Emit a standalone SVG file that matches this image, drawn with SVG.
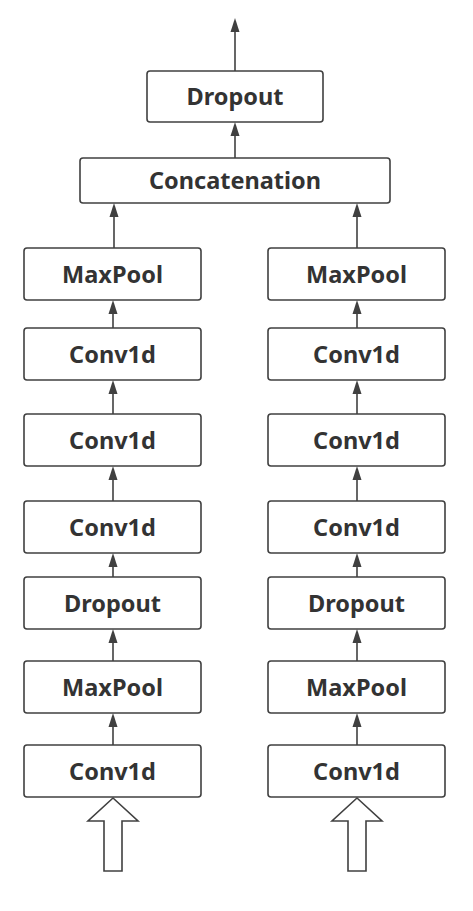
<svg xmlns="http://www.w3.org/2000/svg" width="473" height="911" viewBox="0 0 473 911">
<style>
.box{fill:#fff;stroke:#404040;stroke-width:1.6}
.lbl{font-family:"Noto Sans","DejaVu Sans",sans-serif;font-weight:bold;font-size:23.5px;fill:#333;text-anchor:middle}
.ln{stroke:#404040;stroke-width:1.6;fill:none}
.hd{fill:#404040}
.big{fill:#fff;stroke:#404040;stroke-width:1.6}
</style>
<g id="connectors">
<line class="ln" x1="235" y1="71" x2="235" y2="32"/>
<path class="hd" d="M235,18 L239.5,32 L230.5,32 Z"/>
<line class="ln" x1="235" y1="158" x2="235" y2="136"/>
<path class="hd" d="M235,122 L239.5,136 L230.5,136 Z"/>
<line class="ln" x1="114" y1="248" x2="114" y2="217"/>
<path class="hd" d="M114,203 L118.5,217 L109.5,217 Z"/>
<line class="ln" x1="357" y1="248" x2="357" y2="217"/>
<path class="hd" d="M357,203 L361.5,217 L352.5,217 Z"/>
<g id="left-edges">
<line class="ln" x1="113" y1="328" x2="113" y2="314"/>
<path class="hd" d="M113,300 L117.5,314 L108.5,314 Z"/>
<line class="ln" x1="113" y1="414" x2="113" y2="394"/>
<path class="hd" d="M113,380 L117.5,394 L108.5,394 Z"/>
<line class="ln" x1="113" y1="501" x2="113" y2="480"/>
<path class="hd" d="M113,466 L117.5,480 L108.5,480 Z"/>
<line class="ln" x1="113" y1="577" x2="113" y2="567"/>
<path class="hd" d="M113,553 L117.5,567 L108.5,567 Z"/>
<line class="ln" x1="113" y1="661" x2="113" y2="643"/>
<path class="hd" d="M113,629 L117.5,643 L108.5,643 Z"/>
<line class="ln" x1="113" y1="745" x2="113" y2="727"/>
<path class="hd" d="M113,713 L117.5,727 L108.5,727 Z"/>
</g>
<g id="right-edges">
<line class="ln" x1="357" y1="328" x2="357" y2="314"/>
<path class="hd" d="M357,300 L361.5,314 L352.5,314 Z"/>
<line class="ln" x1="357" y1="414" x2="357" y2="394"/>
<path class="hd" d="M357,380 L361.5,394 L352.5,394 Z"/>
<line class="ln" x1="357" y1="501" x2="357" y2="480"/>
<path class="hd" d="M357,466 L361.5,480 L352.5,480 Z"/>
<line class="ln" x1="357" y1="577" x2="357" y2="567"/>
<path class="hd" d="M357,553 L361.5,567 L352.5,567 Z"/>
<line class="ln" x1="357" y1="661" x2="357" y2="643"/>
<path class="hd" d="M357,629 L361.5,643 L352.5,643 Z"/>
<line class="ln" x1="357" y1="745" x2="357" y2="727"/>
<path class="hd" d="M357,713 L361.5,727 L352.5,727 Z"/>
</g>
<path class="big" d="M113,798 L138,821 L122,821 L122,871 L104,871 L104,821 L88,821 Z"/>
<path class="big" d="M357,798 L382,821 L366,821 L366,871 L348,871 L348,821 L332,821 Z"/>
</g>
<g id="dropout-top"><rect class="box" x="147" y="71" width="176" height="51" rx="3"/><text class="lbl" x="235" y="105">Dropout</text></g>
<g id="concat"><rect class="box" x="80" y="158" width="310" height="45" rx="3"/><text class="lbl" x="235" y="189">Concatenation</text></g>
<g id="l-maxpool2"><rect class="box" x="24" y="248" width="177" height="52" rx="3"/><text class="lbl" x="112.5" y="283">MaxPool</text></g>
<g id="l-conv4"><rect class="box" x="24" y="328" width="177" height="52" rx="3"/><text class="lbl" x="112.5" y="363">Conv1d</text></g>
<g id="l-conv3"><rect class="box" x="24" y="414" width="177" height="52" rx="3"/><text class="lbl" x="112.5" y="449">Conv1d</text></g>
<g id="l-conv2"><rect class="box" x="24" y="501" width="177" height="52" rx="3"/><text class="lbl" x="112.5" y="536">Conv1d</text></g>
<g id="l-dropout"><rect class="box" x="24" y="577" width="177" height="52" rx="3"/><text class="lbl" x="112.5" y="612">Dropout</text></g>
<g id="l-maxpool1"><rect class="box" x="24" y="661" width="177" height="52" rx="3"/><text class="lbl" x="112.5" y="696">MaxPool</text></g>
<g id="l-conv1"><rect class="box" x="24" y="745" width="177" height="52" rx="3"/><text class="lbl" x="112.5" y="780">Conv1d</text></g>
<g id="r-maxpool2"><rect class="box" x="268" y="248" width="177" height="52" rx="3"/><text class="lbl" x="356.5" y="283">MaxPool</text></g>
<g id="r-conv4"><rect class="box" x="268" y="328" width="177" height="52" rx="3"/><text class="lbl" x="356.5" y="363">Conv1d</text></g>
<g id="r-conv3"><rect class="box" x="268" y="414" width="177" height="52" rx="3"/><text class="lbl" x="356.5" y="449">Conv1d</text></g>
<g id="r-conv2"><rect class="box" x="268" y="501" width="177" height="52" rx="3"/><text class="lbl" x="356.5" y="536">Conv1d</text></g>
<g id="r-dropout"><rect class="box" x="268" y="577" width="177" height="52" rx="3"/><text class="lbl" x="356.5" y="612">Dropout</text></g>
<g id="r-maxpool1"><rect class="box" x="268" y="661" width="177" height="52" rx="3"/><text class="lbl" x="356.5" y="696">MaxPool</text></g>
<g id="r-conv1"><rect class="box" x="268" y="745" width="177" height="52" rx="3"/><text class="lbl" x="356.5" y="780">Conv1d</text></g>
</svg>
